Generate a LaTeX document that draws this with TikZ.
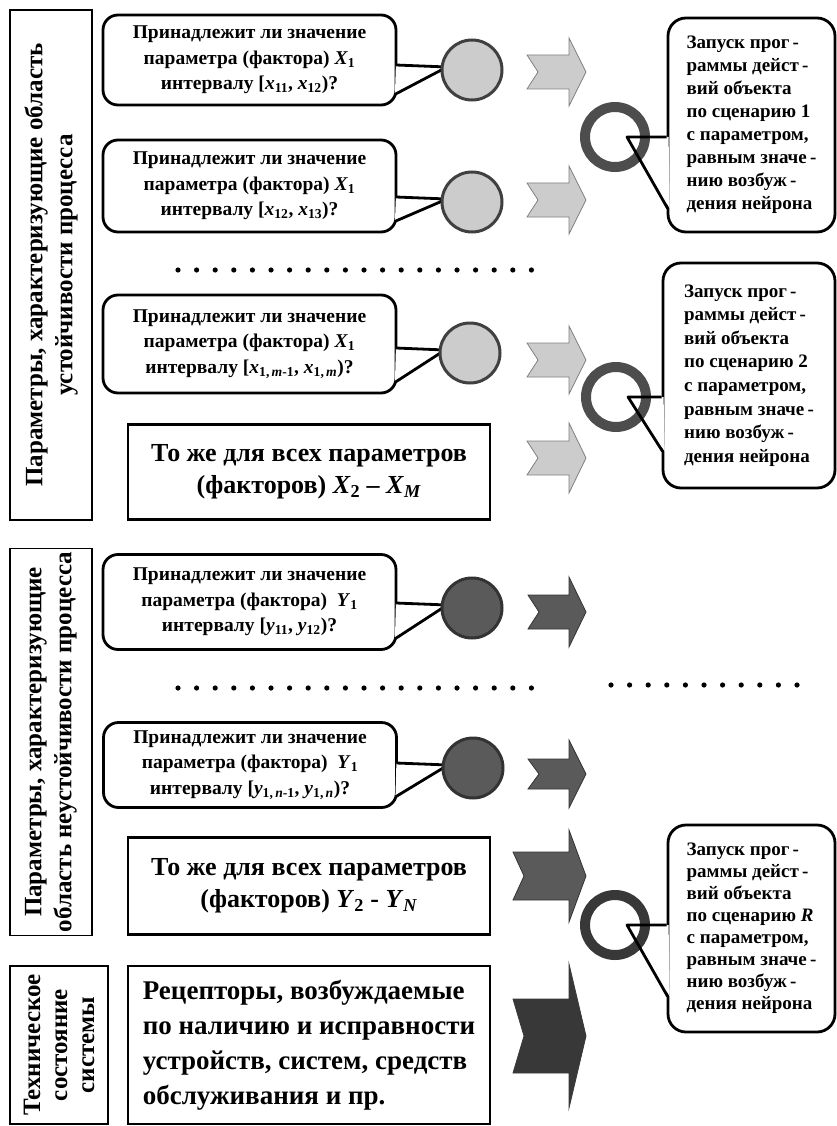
\documentclass[tikz,border=0pt]{standalone}
\usepackage{fontspec}
\setmainfont{Liberation Serif}
\usetikzlibrary{positioning,calc}
\definecolor{nlight}{RGB}{204,204,204}
\definecolor{nedge}{RGB}{64,64,64}
\definecolor{ndark}{RGB}{90,90,90}
\definecolor{dedge}{RGB}{51,51,51}
\definecolor{ringgray}{RGB}{77,77,77}
\definecolor{deepgray}{RGB}{56,56,56}
\newcommand{\varsub}[2]{\textit{#1}\textsubscript{#2}}
% block arrow: style, left x, centre y, body half height, head half height
\newcommand{\sigarrow}[5]{%
  \filldraw[#1] (#2,#3-#4) -- (569,#3-#4) -- (569,#3-#5) -- (586,#3)
    -- (569,#3+#5) -- (569,#3+#4) -- (#2,#3+#4) -- (#2+11,#3) -- cycle;}

\begin{document}
\begin{tikzpicture}[x=1pt, y=-1pt,
  lab/.style={draw, line width=1.4pt, rotate=90, align=center, font=\bfseries\fontsize{25}{30}\selectfont},
  ask/.style={draw, line width=2.8pt, rounded corners=15pt, fill=white, minimum width=293pt, align=center, font=\bfseries\fontsize{19.5}{25.5}\selectfont},
  tail/.style={line width=2.8pt, line join=round},
  neuron/.style={circle, minimum size=60pt, inner sep=0pt, line width=3pt, draw=nedge, fill=nlight},
  dneuron/.style={neuron, draw=dedge, fill=ndark},
  ring/.style={circle, minimum size=60pt, inner sep=0pt, line width=10pt, draw=ringgray},
  result/.style={draw, line width=2.8pt, rounded corners=18pt, fill=white, align=left, font=\bfseries\fontsize{19}{23}\selectfont},
  tbox/.style={draw, line width=2.5pt, minimum width=362pt, font=\bfseries\fontsize{26}{32}\selectfont},
  larr/.style={fill=nlight, draw=gray, line width=0.8pt},
  darr/.style={fill=ndark, draw=dedge, line width=0.8pt}
]
  \useasboundingbox (0,0) rectangle (836,1126);

  %% left column: parameter groups
  \node[lab, minimum width=510pt, minimum height=82pt] (lab1) at (51,265) {Параметры, характеризующие область\\устойчивости процесса};
  \node[lab, minimum width=380pt, minimum height=82pt] (lab2) at (51,742) {Параметры, характеризующие\\область неустойчивости процесса};
  \node[lab, minimum width=158pt, minimum height=98pt, font=\bfseries\fontsize{25}{27}\selectfont] (lab3) at (59,1045) {Техническое\\состояние\\системы};

  %% stability receptors
  \node[ask, minimum height=90pt] (q1) at (249.5,60) {Принадлежит ли значение\\параметра (фактора) \varsub{X}{1}\\интервалу [\varsub{x}{11}, \varsub{x}{12})?};
  \coordinate (c1) at (472,70);
  \filldraw[tail, fill=white] ($(q1.east |- c1)+(-1.5,-5)$) -- ($(c1)+(-25,-3)$) -- ($(q1.south east)+(-2.5,-12)$);
  \node[neuron] (n1) at (c1) {};

  \node[ask, minimum height=92pt] (q2) at (249.5,186) {Принадлежит ли значение\\параметра (фактора) \varsub{X}{1}\\интервалу [\varsub{x}{12}, \varsub{x}{13})?};
  \coordinate (c2) at (472,202);
  \filldraw[tail, fill=white] ($(q2.east |- c2)+(-1.5,-5)$) -- ($(c2)+(-25,-3)$) -- ($(q2.south east)+(-2.5,-12)$);
  \node[neuron] (n2) at (c2) {};

  \foreach \i in {0,...,19} \fill (178+18.6*\i,270) circle (2.6pt);

  \node[ask, minimum height=98pt] (q3) at (249.5,344) {Принадлежит ли значение\\параметра (фактора) \varsub{X}{1}\\интервалу [\varsub{x}{1,\,\textit{m}-1}, \varsub{x}{1,\,\textit{m}})?};
  \coordinate (c3) at (470,353);
  \filldraw[tail, fill=white] ($(q3.east |- c3)+(-1.5,-5)$) -- ($(c3)+(-25,-3)$) -- ($(q3.south east)+(-2.5,-12)$);
  \node[neuron] (n3) at (c3) {};

  \node[tbox, minimum height=95pt, align=center] (b1) at (309,472) {То же для всех параметров\\(факторов) \varsub{X}{2} – \varsub{X}{\textit{M}}};

  \sigarrow{larr}{527}{72}{17}{34}
  \sigarrow{larr}{527}{200}{17}{34}
  \sigarrow{larr}{527}{360}{17}{34}
  \sigarrow{larr}{527}{458}{17}{35}

  %% instability receptors
  \node[ask, minimum height=95pt] (q4) at (249.5,602) {Принадлежит ли значение\\параметра (фактора) \ \varsub{Y}{1}\\интервалу [\varsub{y}{11}, \varsub{y}{12})?};
  \coordinate (c4) at (472,608);
  \filldraw[tail, fill=white] ($(q4.east |- c4)+(-1.5,-5)$) -- ($(c4)+(-25,-3)$) -- ($(q4.south east)+(-2.5,-12)$);
  \node[dneuron] (n4) at (c4) {};

  \foreach \i in {0,...,19} \fill (178+18.6*\i,688) circle (2.6pt);
  \foreach \i in {0,...,10} \fill (611+18.6*\i,685) circle (2.6pt);

  \node[ask, minimum height=85pt] (q5) at (250,765) {Принадлежит ли значение\\параметра (фактора) \ \varsub{Y}{1}\\интервалу [\varsub{y}{1,\,\textit{n}-1}, \varsub{y}{1,\,\textit{n}})?};
  \coordinate (c5) at (473,768);
  \filldraw[tail, fill=white] ($(q5.east |- c5)+(-1.5,-5)$) -- ($(c5)+(-25,-3)$) -- ($(q5.south east)+(-2.5,-12)$);
  \node[dneuron] (n5) at (c5) {};

  \node[tbox, minimum height=97pt, align=center] (b2) at (309,886) {То же для всех параметров\\(факторов) \varsub{Y}{2} - \varsub{Y}{\textit{N}}};

  %% technical state receptors
  \node[tbox, minimum height=158pt, align=left, font=\bfseries\fontsize{27}{35}\selectfont] (b3) at (309,1045) {Рецепторы, возбуждаемые\\по наличию и исправности\\устройств, систем, средств\\обслуживания и пр.};

  \sigarrow{darr}{528}{612}{17}{35}
  \sigarrow{darr}{528}{774}{15}{34}
  \sigarrow{darr}{513}{876}{24}{46}
  \sigarrow{darr, fill=deepgray, draw=deepgray}{513}{1036}{37}{72}

  %% output neurons and scenarios
  \node[result, minimum width=167pt, minimum height=214pt] (s1) at (751.5,125) {Запуск прог\,-\\раммы дейст\,-\\вий объекта\\по сценарию 1\\с параметром,\\равным значе\,-\\нию возбуж\,-\\дения нейрона};
  \coordinate (o1) at (615,137);
  \fill[white] ($(s1.west |- o1)+(2,0)$) -- ($(o1)+(12,0)$) -- ($(s1.south west)+(3,-25)$) -- cycle;
  \node[ring] (r1) at (o1) {};
  \draw[tail] (s1.west |- o1) -- ($(o1)+(12,0)$) -- ($(s1.south west)+(1,-25)$);

  \node[result, minimum width=172pt, minimum height=225pt, font=\bfseries\fontsize{19}{23.6}\selectfont] (s2) at (749,375.5) {Запуск прог\,-\\раммы дейст\,-\\вий объекта\\по сценарию 2\\с параметром,\\равным значе\,-\\нию возбуж\,-\\дения нейрона};
  \coordinate (o2) at (616,397);
  \fill[white] ($(s2.west |- o2)+(2,0)$) -- ($(o2)+(12,0)$) -- ($(s2.south west)+(3,-38)$) -- cycle;
  \node[ring] (r2) at (o2) {};
  \draw[tail] (s2.west |- o2) -- ($(o2)+(12,0)$) -- ($(s2.south west)+(1,-38)$);

  \node[result, minimum width=167pt, minimum height=207pt, font=\bfseries\fontsize{19}{22}\selectfont] (s3) at (751.5,928.5) {Запуск прог\,-\\раммы дейст\,-\\вий объекта\\по сценарию \textit{R}\\с параметром,\\равным значе\,-\\нию возбуж\,-\\дения нейрона};
  \coordinate (o3) at (615,925);
  \fill[white] ($(s3.west |- o3)+(2,0)$) -- ($(o3)+(12,0)$) -- ($(s3.south west)+(3,-37)$) -- cycle;
  \node[ring, draw=deepgray] (r3) at (o3) {};
  \draw[tail] (s3.west |- o3) -- ($(o3)+(12,0)$) -- ($(s3.south west)+(1,-37)$);
\end{tikzpicture}
\end{document}
